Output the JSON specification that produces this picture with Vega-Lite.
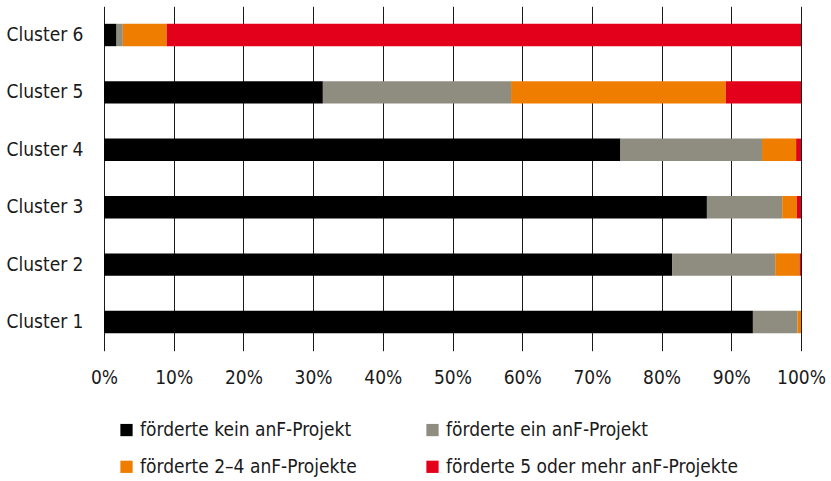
{
  "$schema": "https://vega.github.io/schema/vega-lite/v6.json",
  "width": 697,
  "height": 344.4,
  "autosize": {"type": "none"},
  "padding": {"left": 104, "top": 6.3, "right": 30, "bottom": 130.3},
  "background": "white",
  "config": {
    "view": {"stroke": null},
    "font": "DejaVu Sans Condensed, sans-serif",
    "axis": {"labelFontSize": 19, "labelColor": "#1a1a1a", "labelFont": "DejaVu Sans Condensed, sans-serif"},
    "legend": {"labelFontSize": 19, "labelColor": "#1a1a1a", "labelFont": "DejaVu Sans Condensed, sans-serif"}
  },
  "data": {
    "values": [
      {"cluster": "Cluster 6", "k": 1, "cat": "förderte kein anF-Projekt", "v": 1.8},
      {"cluster": "Cluster 6", "k": 2, "cat": "förderte ein anF-Projekt", "v": 0.9},
      {"cluster": "Cluster 6", "k": 3, "cat": "förderte 2–4 anF-Projekte", "v": 6.3},
      {"cluster": "Cluster 6", "k": 4, "cat": "förderte 5 oder mehr anF-Projekte", "v": 91.0},
      {"cluster": "Cluster 5", "k": 1, "cat": "förderte kein anF-Projekt", "v": 31.4},
      {"cluster": "Cluster 5", "k": 2, "cat": "förderte ein anF-Projekt", "v": 27.0},
      {"cluster": "Cluster 5", "k": 3, "cat": "förderte 2–4 anF-Projekte", "v": 30.8},
      {"cluster": "Cluster 5", "k": 4, "cat": "förderte 5 oder mehr anF-Projekte", "v": 10.8},
      {"cluster": "Cluster 4", "k": 1, "cat": "förderte kein anF-Projekt", "v": 74.1},
      {"cluster": "Cluster 4", "k": 2, "cat": "förderte ein anF-Projekt", "v": 20.3},
      {"cluster": "Cluster 4", "k": 3, "cat": "förderte 2–4 anF-Projekte", "v": 4.9},
      {"cluster": "Cluster 4", "k": 4, "cat": "förderte 5 oder mehr anF-Projekte", "v": 0.7},
      {"cluster": "Cluster 3", "k": 1, "cat": "förderte kein anF-Projekt", "v": 86.5},
      {"cluster": "Cluster 3", "k": 2, "cat": "förderte ein anF-Projekt", "v": 10.8},
      {"cluster": "Cluster 3", "k": 3, "cat": "förderte 2–4 anF-Projekte", "v": 2.1},
      {"cluster": "Cluster 3", "k": 4, "cat": "förderte 5 oder mehr anF-Projekte", "v": 0.6},
      {"cluster": "Cluster 2", "k": 1, "cat": "förderte kein anF-Projekt", "v": 81.5},
      {"cluster": "Cluster 2", "k": 2, "cat": "förderte ein anF-Projekt", "v": 14.8},
      {"cluster": "Cluster 2", "k": 3, "cat": "förderte 2–4 anF-Projekte", "v": 3.5},
      {"cluster": "Cluster 2", "k": 4, "cat": "förderte 5 oder mehr anF-Projekte", "v": 0.2},
      {"cluster": "Cluster 1", "k": 1, "cat": "förderte kein anF-Projekt", "v": 93.1},
      {"cluster": "Cluster 1", "k": 2, "cat": "förderte ein anF-Projekt", "v": 6.4},
      {"cluster": "Cluster 1", "k": 3, "cat": "förderte 2–4 anF-Projekte", "v": 0.5},
      {"cluster": "Cluster 1", "k": 4, "cat": "förderte 5 oder mehr anF-Projekte", "v": 0.0}
    ]
  },
  "mark": {"type": "bar"},
  "encoding": {
    "y": {
      "field": "cluster", "type": "nominal", "sort": "descending",
      "scale": {"paddingInner": 0.61, "paddingOuter": 0.305},
      "axis": {"title": null, "ticks": false, "domain": false, "labelPadding": 21}
    },
    "x": {
      "field": "v", "type": "quantitative", "stack": "normalize",
      "scale": {"domain": [0, 1], "nice": false},
      "axis": {"title": null, "format": ".0%", "values": [0, 0.1, 0.2, 0.3, 0.4, 0.5, 0.6, 0.7, 0.8, 0.9, 1.0], "ticks": false, "domain": false, "grid": true, "gridColor": "#1a1a1a", "gridWidth": 1, "gridOpacity": 1, "labelPadding": 18, "labelOverlap": false, "labelFlush": false}
    },
    "color": {
      "field": "cat", "type": "nominal",
      "scale": {
        "domain": ["förderte kein anF-Projekt", "förderte ein anF-Projekt", "förderte 2–4 anF-Projekte", "förderte 5 oder mehr anF-Projekte"],
        "range": ["#000000", "#8f8c80", "#ef7d00", "#e2001a"]
      },
      "legend": {
        "title": null, "orient": "none", "legendX": 13, "legendY": 414,
        "columns": 2, "direction": "horizontal", "symbolType": "square", "symbolSize": 150,
        "symbolStrokeWidth": 0, "labelOffset": 4, "columnPadding": 66, "rowPadding": 17, "padding": 0, "labelLimit": 400
      }
    },
    "order": {"field": "k", "type": "quantitative"}
  }
}
